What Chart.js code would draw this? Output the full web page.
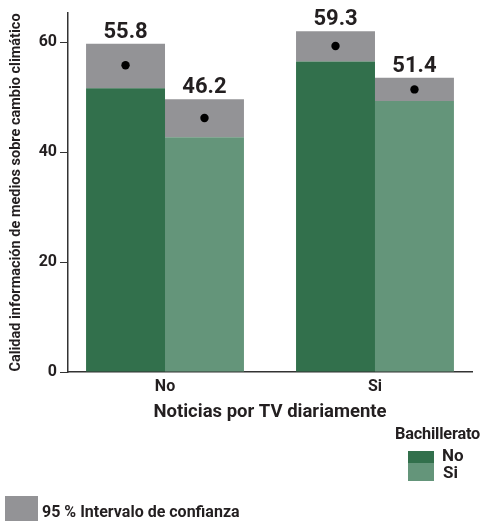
<!DOCTYPE html>
<html>
<head>
<meta charset="utf-8">
<script src="https://cdn.jsdelivr.net/npm/chart.js@4.4.3/dist/chart.umd.min.js"></script>
<style>
  body { margin: 0; background: #fff; font-family: Roboto, sans-serif; }
  #wrap { position: relative; width: 482px; height: 521px; }
  .txt { position: absolute; font-weight: bold; color: #231f20; white-space: nowrap; }
  .sw { position: absolute; }
</style>
</head>
<body>
<div id="wrap">
  <canvas id="chart" width="482" height="521"></canvas>
  <div class="txt" style="right:2px; top:424px; font-size:16.3px; letter-spacing:-0.2px;">Bachillerato</div>
  <div class="sw" style="left:408px; top:451px; width:26px; height:12px; background:#32704c;"></div>
  <div class="sw" style="left:408px; top:463px; width:26px; height:18px; background:#64957a;"></div>
  <div class="txt" style="left:442px; top:446px; font-size:17px; line-height:18px;">No</div>
  <div class="txt" style="left:443px; top:463px; font-size:17px; line-height:18px;">Si</div>
  <div class="sw" style="left:5px; top:496px; width:33px; height:25px; background:#939396;"></div>
  <div class="txt" style="left:42px; top:502px; font-size:16px; line-height:19px;">95 % Intervalo de confianza</div>
</div>
<script>
// Noticias por TV diariamente (eje x)
const categorias = ['No', 'Si'];
// Bachillerato = No
const mediaNo = [55.8, 59.3];
const inferiorNo = [51.6, 56.5];
const superiorNo = [59.7, 62.0];
// Bachillerato = Si
const mediaSi = [46.2, 51.4];
const inferiorSi = [42.7, 49.3];
const superiorSi = [49.6, 53.5];

const colorOscuro = '#32704c';
const colorClaro = '#64957a';
const colorIC = '#939396';
const colorTexto = '#231f20';

// barra desde 0 hasta el limite inferior
const barras = inf => inf.map((v, i) => ({ x: i, y: v }));
// intervalo como barra flotante [inferior, superior]
const intervalo = (inf, sup) => inf.map((v, i) => ({ x: i, y: [v, sup[i]] }));

// puntos negros y etiquetas de la media encima de cada barra
const mediasPlugin = {
    id: 'medias',
    afterDatasetsDraw(chart) {
        const ctx = chart.ctx;
        const y = chart.scales.y;
        const grupos = [
            { meta: chart.getDatasetMeta(0), media: mediaNo, sup: superiorNo },
            { meta: chart.getDatasetMeta(2), media: mediaSi, sup: superiorSi }
        ];
        ctx.save();
        grupos.forEach(g => {
            g.meta.data.forEach((bar, i) => {
                ctx.fillStyle = '#000';
                ctx.beginPath();
                ctx.arc(bar.x, y.getPixelForValue(g.media[i]), 4.2, 0, Math.PI * 2);
                ctx.fill();
                ctx.fillStyle = colorTexto;
                ctx.font = 'bold 22px Roboto';
                ctx.textAlign = 'center';
                ctx.textBaseline = 'alphabetic';
                ctx.fillText(g.media[i].toFixed(1), bar.x, y.getPixelForValue(g.sup[i]) - 6);
            });
        });
        ctx.restore();
    }
};

new Chart(document.getElementById('chart'), {
    type: 'bar',
    data: {
        datasets: [
            { label: 'No', data: barras(inferiorNo), backgroundColor: colorOscuro, stack: 'no' },
            { label: 'IC No', data: intervalo(inferiorNo, superiorNo), backgroundColor: colorIC, stack: 'no' },
            { label: 'Si', data: barras(inferiorSi), backgroundColor: colorClaro, stack: 'si' },
            { label: 'IC Si', data: intervalo(inferiorSi, superiorSi), backgroundColor: colorIC, stack: 'si' }
        ]
    },
    options: {
        responsive: false,
        animation: false,
        layout: { padding: { left: 0, right: 10, top: 13, bottom: 94 } },
        datasets: { bar: { categoryPercentage: 0.752, barPercentage: 1.0 } },
        plugins: { legend: { display: false }, tooltip: { enabled: false } },
        scales: {
            x: {
                type: 'linear',
                stacked: true,
                offset: false,
                bounds: 'data',
                min: -0.462,
                max: 1.462,
                afterBuildTicks(scale) { scale.ticks = categorias.map((c, i) => ({ value: i })); },
                grid: { display: true, offset: false, drawOnChartArea: false, drawTicks: false },
                border: { color: '#333', width: 1.5 },
                ticks: {
                    color: colorTexto,
                    padding: 5,
                    font: { family: 'Roboto', size: 16, weight: 'bold' },
                    callback: v => categorias[v]
                },
                title: {
                    display: true,
                    text: 'Noticias por TV diariamente',
                    color: colorTexto,
                    padding: { top: 4, bottom: 4 },
                    font: { family: 'Roboto', size: 18.5, weight: 'bold' }
                },
                afterFit(scale) { scale.height = 55; }
            },
            y: {
                stacked: false,
                min: 0,
                max: 65.3,
                grid: { drawOnChartArea: false, drawTicks: true, tickLength: 8, color: '#333' },
                border: { color: '#333', width: 1.5 },
                ticks: {
                    stepSize: 20,
                    padding: 3,
                    color: colorTexto,
                    font: { family: 'Roboto', size: 16, weight: 'bold' },
                    callback: v => (v % 20 === 0 ? v : null)
                },
                title: {
                    display: true,
                    text: 'Calidad información de medios sobre cambio climático',
                    color: colorTexto,
                    padding: { top: 8, bottom: 0 },
                    font: { family: 'Roboto', size: 14.5, weight: 'bold' }
                },
                afterFit(scale) { scale.width = 68; }
            }
        }
    },
    plugins: [mediasPlugin]
});
</script>
</body>
</html>
